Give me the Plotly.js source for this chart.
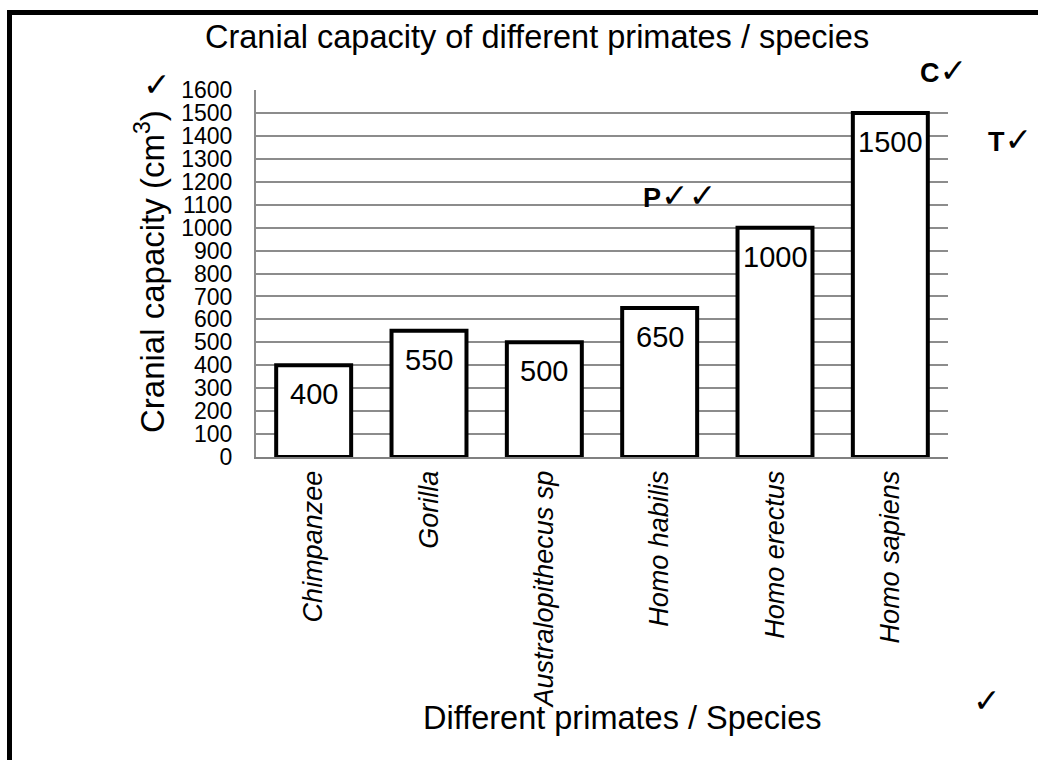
<!DOCTYPE html>
<html>
<head>
<meta charset="utf-8">
<script src="https://cdn.plot.ly/plotly-3.0.1.min.js"></script>
<style>
html,body{margin:0;padding:0;background:#fff;}
#chart{width:1038px;height:760px;}
</style>
</head>
<body>
<div id="chart"></div>
<script>
const categories = ["Chimpanzee", "Gorilla", "Australopithecus sp", "Homo habilis", "Homo erectus", "Homo sapiens"];
const capacity = [400, 550, 500, 650, 1000, 1500];
const yTickValues = [0,100,200,300,400,500,600,700,800,900,1000,1100,1200,1300,1400,1500,1600];

const FONT = '"Liberation Sans", Arial, "DejaVu Sans", sans-serif';

const trace = {
  type: 'bar',
  x: categories,
  y: capacity,
  marker: {color: '#ffffff', line: {color: '#000000', width: 4}},
  hoverinfo: 'x+y'
};

// value labels inside the top of each bar
const valueAnnots = categories.map((c, i) => ({
  x: c, y: capacity[i], xref: 'x', yref: 'y',
  text: String(capacity[i]), showarrow: false,
  yanchor: 'middle', xanchor: 'center', yshift: -29,
  font: {family: FONT, size: 29, color: '#000'}
}));

// convert pixel positions to paper coordinates for the free-floating marks
const L = 256, R = 948, T = 90, B = 457;
const px = v => (v - L) / (R - L);
const py = v => (B - v) / (B - T);

const CK = '<span style="font-size:33px">✓</span>';
const marks = [
  {t: '<b>C</b>' + CK, x: 943, y: 70},
  {t: '<b>T</b>' + CK, x: 1010, y: 139},
  {t: '<b>P</b>' + CK + CK, x: 679, y: 195},
  {t: CK, x: 157, y: 85},
  {t: CK, x: 987, y: 700}
].map(m => ({
  xref: 'paper', yref: 'paper', x: px(m.x), y: py(m.y),
  text: m.t, showarrow: false, xanchor: 'center', yanchor: 'middle',
  font: {family: FONT, size: 27, color: '#000'}
}));

const textAnnots = [
  {xref: 'paper', yref: 'paper', x: px(537), y: py(37), text: 'Cranial capacity of different primates / species',
   showarrow: false, xanchor: 'center', yanchor: 'middle', font: {family: FONT, size: 32.5, color: '#000'}},
  {xref: 'paper', yref: 'paper', x: px(622), y: py(718), text: 'Different primates / Species',
   showarrow: false, xanchor: 'center', yanchor: 'middle', font: {family: FONT, size: 32.5, color: '#000'}},
  {xref: 'paper', yref: 'paper', x: px(173), y: py(272), text: 'Cranial capacity (cm<sup>3</sup>)', textangle: -90,
   showarrow: false, xanchor: 'right', yanchor: 'middle', font: {family: FONT, size: 33, color: '#000'}}
];

const layout = {
  width: 1038, height: 760,
  margin: {l: L, r: 1038 - R, t: T, b: 760 - B, pad: 0},
  paper_bgcolor: '#fff', plot_bgcolor: '#fff',
  showlegend: false,
  bargap: 0.35,
  font: {family: FONT, color: '#000'},
  xaxis: {
    type: 'category',
    tickangle: -90,
    tickfont: {family: FONT, size: 27, color: '#000', style: 'italic'},
    ticks: '', ticklabelstandoff: 1,
    showline: true, linecolor: '#808080', linewidth: 2,
    showgrid: false, zeroline: false
  },
  yaxis: {
    range: [0, 1600],
    tickvals: yTickValues,
    ticktext: yTickValues.map(String),
    tickfont: {family: FONT, size: 23, color: '#000'},
    ticks: '', ticklabelstandoff: 17,
    showgrid: true, gridcolor: '#8c8c8c', gridwidth: 2,
    showline: true, linecolor: '#8c8c8c', linewidth: 2,
    zeroline: false
  },
  annotations: valueAnnots.concat(marks, textAnnots),
  shapes: [
    {type: 'line', xref: 'paper', yref: 'paper', x0: px(7), x1: px(1045), y0: py(12.5), y1: py(12.5),
     line: {color: '#000', width: 5}},
    {type: 'line', xref: 'paper', yref: 'paper', x0: px(9.5), x1: px(9.5), y0: py(10), y1: py(770),
     line: {color: '#000', width: 5}}
  ]
};

Plotly.newPlot('chart', [trace], layout, {displayModeBar: false, staticPlot: true});
</script>
</body>
</html>
